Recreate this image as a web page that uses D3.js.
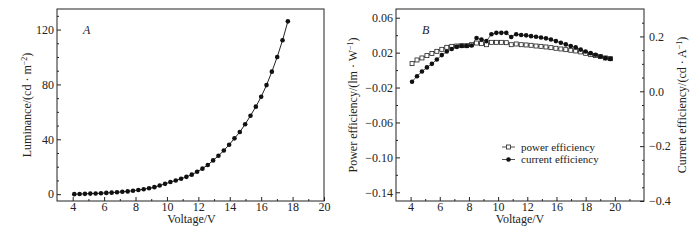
<!DOCTYPE html>
<html>
<head>
<meta charset="utf-8">
<script src="https://cdn.jsdelivr.net/npm/d3@7"></script>
<style>
  body { margin: 0; background: #fff; }
  svg text { font-family: "Liberation Serif", "Times New Roman", serif; fill: #222; }
</style>
</head>
<body>
<div id="chart"></div>
<script>
// Voltage readings shared by both panels
const voltage = [4.10, 4.44, 4.78, 5.12, 5.46, 5.80, 6.14, 6.48, 6.82, 7.16,
  7.50, 7.84, 8.18, 8.52, 8.86, 9.20, 9.54, 9.88, 10.22, 10.56,
  10.90, 11.24, 11.58, 11.92, 12.26, 12.60, 12.94, 13.28, 13.62, 13.96,
  14.30, 14.64, 14.98, 15.32, 15.66, 16.00, 16.34, 16.68, 17.02, 17.36, 17.70];

// Panel A: luminance (cd/m2)
const luminance = [0, 0.1, 0.2, 0.4, 0.5, 0.7, 0.9, 1.1, 1.4, 1.7,
  2.0, 2.5, 3.0, 3.6, 4.3, 5.1, 6.3, 7.5, 8.8, 10.0,
  11.2, 12.6, 14.2, 16.3, 18.6, 21.3, 24.6, 28.0, 31.8, 36.0,
  40.7, 45.3, 51.0, 57.2, 63.8, 71.0, 79.5, 89.3, 100.0, 112.2, 126.0];

// Panel B: power efficiency (lm/W) and current efficiency (cd/A)
const powerEff = [0.0074, 0.0116, 0.0139, 0.0166, 0.0189, 0.0215, 0.0238, 0.0261, 0.0272, 0.0276,
  0.0280, 0.0280, 0.0291, 0.0310, 0.0303, 0.0291, 0.0318, 0.0318, 0.0318, 0.0314,
  0.0291, 0.0299, 0.0291, 0.0288, 0.0284, 0.0276, 0.0272, 0.0265, 0.0257, 0.0250,
  0.0242, 0.0234, 0.0227, 0.0219, 0.0208, 0.0192, 0.0177, 0.0166, 0.0154, 0.0139, 0.0131];
const currentEff = [0.035, 0.055, 0.072, 0.087, 0.100, 0.116, 0.132, 0.145, 0.154, 0.162,
  0.165, 0.165, 0.167, 0.194, 0.189, 0.183, 0.208, 0.213, 0.213, 0.213,
  0.198, 0.208, 0.205, 0.204, 0.201, 0.199, 0.196, 0.193, 0.189, 0.183,
  0.177, 0.171, 0.165, 0.160, 0.152, 0.145, 0.139, 0.133, 0.127, 0.121, 0.118];

// Tick values and labels
const xTicksA = [4, 6, 8, 10, 12, 14, 16, 18, 20];
const xTicksB = [4, 6, 8, 10, 12, 14, 16, 18];
const xLabelsB = ["4", "6", "8", "10", "12", "16", "18", "20"]; // as printed in the figure
const xMinor = [5, 7, 9, 11, 13, 15, 17, 19];
const yTicksA = [0, 40, 80, 120];
const yMinorA = [10, 20, 30, 50, 60, 70, 90, 100, 110, 130];
const yTicksBL = [0.06, 0.02, -0.02, -0.06, -0.10, -0.14];
const yMinorBL = [0.04, 0.0, -0.04, -0.08, -0.12];
const yTicksBR = [0.2, 0.0, -0.2, -0.4];
const yMinorBR = [0.25, 0.15, 0.1, 0.05, -0.05, -0.1, -0.15, -0.25, -0.3, -0.35];
const legendLabels = ["power efficiency", "current efficiency"];

const width = 700, height = 240;
const svg = d3.select("#chart").append("svg")
  .attr("width", width).attr("height", height);

const ink = "#222";

function frame(g, w, h) {
  g.append("rect").attr("width", w).attr("height", h)
    .attr("fill", "none").attr("stroke", ink).attr("stroke-width", 1);
}

function styleAxis(sel) {
  sel.select(".domain").remove();
  sel.selectAll("line").attr("stroke", ink);
  sel.selectAll("text").style("font-size", "12px").attr("fill", ink);
}

// ---------- Panel A ----------
const A = { left: 57, top: 9, w: 267, h: 192 };
const gA = svg.append("g").attr("transform", `translate(${A.left},${A.top})`);

const xA = d3.scaleLinear().domain([3, 20]).range([0, A.w]);
const yA = d3.scaleLinear().domain([-5, 135]).range([A.h, 0]);

gA.append("g").attr("transform", `translate(0,${A.h})`)
  .call(d3.axisBottom(xA).tickValues(xTicksA).tickSizeInner(-4).tickSizeOuter(0).tickPadding(1))
  .call(styleAxis);
gA.append("g").attr("transform", `translate(0,${A.h})`)
  .call(d3.axisBottom(xA).tickValues(xMinor).tickSize(-2).tickFormat(""))
  .call(styleAxis);
gA.append("g")
  .call(d3.axisLeft(yA).tickValues(yTicksA).tickSizeInner(-4).tickSizeOuter(0).tickPadding(3).tickFormat(d3.format("d")))
  .call(styleAxis);
gA.append("g")
  .call(d3.axisLeft(yA).tickValues(yMinorA).tickSize(-2).tickFormat(""))
  .call(styleAxis);
frame(gA, A.w, A.h);

const lumData = voltage.map((v, i) => [v, luminance[i]]);
gA.append("path").datum(lumData)
  .attr("fill", "none").attr("stroke", ink).attr("stroke-width", 1)
  .attr("d", d3.line().x(d => xA(d[0])).y(d => yA(d[1])));
gA.selectAll("circle.lum").data(lumData).join("circle")
  .attr("class", "lum")
  .attr("cx", d => xA(d[0])).attr("cy", d => yA(d[1]))
  .attr("r", 2.3).attr("fill", "#111");

gA.append("text").attr("x", 26).attr("y", 25)
  .style("font-size", "12px").style("font-style", "italic").text("A");

svg.append("text")
  .attr("x", A.left + A.w / 2 + 1).attr("y", 223)
  .attr("text-anchor", "middle").style("font-size", "12px").text("Voltage/V");

const ylabA = svg.append("text")
  .attr("transform", `translate(31,${A.top + A.h / 2}) rotate(-90)`)
  .attr("text-anchor", "middle").style("font-size", "12px");
ylabA.append("tspan").text("Luminance/(cd · m");
ylabA.append("tspan").attr("dy", -4).style("font-size", "8px").text("−2");
ylabA.append("tspan").attr("dy", 4).text(")");

// ---------- Panel B ----------
const B = { left: 396, top: 9, w: 248, h: 192 };
const gB = svg.append("g").attr("transform", `translate(${B.left},${B.top})`);

const xB = d3.scaleLinear().domain([3, 20]).range([0, B.w]);
const yBL = d3.scaleLinear().domain([-0.15, 0.07]).range([B.h, 0]);
const yBR = d3.scaleLinear().domain([-0.4, 0.3]).range([B.h, 0]);

gB.append("g").attr("transform", `translate(0,${B.h})`)
  .call(d3.axisBottom(xB).tickValues(xTicksB).tickSizeInner(-4).tickSizeOuter(0).tickPadding(1)
    .tickFormat((d, i) => xLabelsB[i]))
  .call(styleAxis);
gB.append("g").attr("transform", `translate(0,${B.h})`)
  .call(d3.axisBottom(xB).tickValues(xMinor).tickSize(-2).tickFormat(""))
  .call(styleAxis);
gB.append("g")
  .call(d3.axisLeft(yBL).tickValues(yTicksBL).tickSizeInner(-4).tickSizeOuter(0).tickPadding(3).tickFormat(d3.format(".2f")))
  .call(styleAxis);
gB.append("g")
  .call(d3.axisLeft(yBL).tickValues(yMinorBL).tickSize(-2).tickFormat(""))
  .call(styleAxis);
gB.append("g").attr("transform", `translate(${B.w},0)`)
  .call(d3.axisRight(yBR).tickValues(yTicksBR).tickSizeInner(-4).tickSizeOuter(0).tickPadding(5).tickFormat(d3.format(".1f")))
  .call(styleAxis);
gB.append("g").attr("transform", `translate(${B.w},0)`)
  .call(d3.axisRight(yBR).tickValues(yMinorBR).tickSize(-2).tickFormat(""))
  .call(styleAxis);
frame(gB, B.w, B.h);

const powData = voltage.map((v, i) => [v, powerEff[i]]);
const curData = voltage.map((v, i) => [v, currentEff[i]]);

gB.append("path").datum(powData)
  .attr("fill", "none").attr("stroke", ink).attr("stroke-width", 0.8)
  .attr("d", d3.line().x(d => xB(d[0])).y(d => yBL(d[1])));
gB.append("path").datum(curData)
  .attr("fill", "none").attr("stroke", ink).attr("stroke-width", 0.8)
  .attr("d", d3.line().x(d => xB(d[0])).y(d => yBR(d[1])));

gB.selectAll("rect.pow").data(powData).join("rect")
  .attr("class", "pow")
  .attr("x", d => xB(d[0]) - 2).attr("y", d => yBL(d[1]) - 2)
  .attr("width", 4).attr("height", 4)
  .attr("fill", "#fff").attr("stroke", ink).attr("stroke-width", 0.8);
gB.selectAll("circle.cur").data(curData).join("circle")
  .attr("class", "cur")
  .attr("cx", d => xB(d[0])).attr("cy", d => yBR(d[1]))
  .attr("r", 2.3).attr("fill", "#111");

gB.append("text").attr("x", 26).attr("y", 25)
  .style("font-size", "12px").style("font-style", "italic").text("B");

// legend
const leg = gB.append("g").attr("transform", "translate(106,138)");
legendLabels.forEach((label, i) => {
  const row = leg.append("g").attr("transform", `translate(0,${i * 12.5})`);
  row.append("line").attr("x1", 0).attr("x2", 13).attr("y1", 0).attr("y2", 0)
    .attr("stroke", ink).attr("stroke-width", 0.8);
  if (i === 0) {
    row.append("rect").attr("x", 4.5).attr("y", -2).attr("width", 4).attr("height", 4)
      .attr("fill", "#fff").attr("stroke", ink).attr("stroke-width", 0.8);
  } else {
    row.append("circle").attr("cx", 6.5).attr("cy", 0).attr("r", 2.3).attr("fill", "#111");
  }
  row.append("text").attr("x", 19).attr("y", 3.5)
    .style("font-size", "11px").text(label);
});

svg.append("text")
  .attr("x", B.left + B.w / 2).attr("y", 223)
  .attr("text-anchor", "middle").style("font-size", "12px").text("Voltage/V");

const ylabBL = svg.append("text")
  .attr("transform", `translate(357,${B.top + B.h / 2}) rotate(-90)`)
  .attr("text-anchor", "middle").style("font-size", "12px");
ylabBL.append("tspan").text("Power efficiency/(lm · W");
ylabBL.append("tspan").attr("dy", -4).style("font-size", "8px").text("−1");
ylabBL.append("tspan").attr("dy", 4).text(")");

const ylabBR = svg.append("text")
  .attr("transform", `translate(686,${B.top + B.h / 2}) rotate(-90)`)
  .attr("text-anchor", "middle").style("font-size", "12px");
ylabBR.append("tspan").text("Current efficiency/(cd · A");
ylabBR.append("tspan").attr("dy", -4).style("font-size", "8px").text("−1");
ylabBR.append("tspan").attr("dy", 4).text(")");
</script>
</body>
</html>
